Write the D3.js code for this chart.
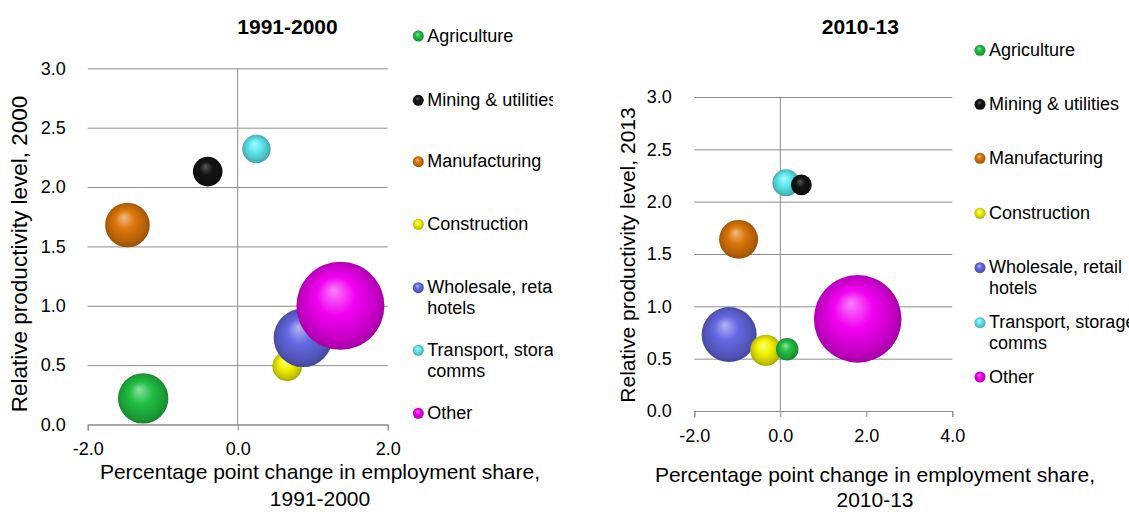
<!DOCTYPE html>
<html>
<head>
<meta charset="utf-8">
<script src="https://cdn.jsdelivr.net/npm/d3@7"></script>
<style>
  html, body { margin: 0; padding: 0; background: #fff; }
  svg text { font-family: "Liberation Sans", Arial, sans-serif; fill: #000; }
</style>
</head>
<body>
<svg id="chart" width="1129" height="512"></svg>
<script>
// Sectors and their colours
const sectors = ["Agriculture", "Mining & utilities", "Manufacturing", "Construction",
                 "Wholesale, retail, hotels", "Transport, storage, comms", "Other"];
const legendLines = [["Agriculture"], ["Mining & utilities"], ["Manufacturing"], ["Construction"],
                     ["Wholesale, retail", "hotels"], ["Transport, storage", "comms"], ["Other"]];
const colors = ["#22c043", "#141414", "#dc760a", "#f4f400", "#6468e2", "#5eeaf0", "#f200f2"];

// 1991-2000: change in employment share (pp), relative productivity 2000, employment share (bubble size)
const changeA = [-1.26, -0.40, -1.47, 0.66, 0.87, 0.25, 1.37];
const prodA   = [0.22, 2.13, 1.68, 0.49, 0.73, 2.32, 1.00];
const sizeA   = [13.9, 4.8, 10.9, 4.8, 18.8, 4.4, 42.4];

// 2010-13: change in employment share (pp), relative productivity 2013, employment share (bubble size)
const changeB = [0.16, 0.49, -0.97, -0.34, -1.19, 0.13, 1.80];
const prodB   = [0.59, 2.16, 1.64, 0.58, 0.73, 2.18, 0.88];
const sizeB   = [3.4, 2.9, 10.2, 6.5, 20.4, 4.9, 51.7];

// Axis ticks
const yTicks = [0, 0.5, 1.0, 1.5, 2.0, 2.5, 3.0];
const xTicksA = [-2, 0, 2];
const xTicksB = [-2, 0, 2, 4];
const fmt = d => d.toFixed(1);

const svg = d3.select("#chart");
const defs = svg.append("defs");
const grid = "#8c8c8c";

// Sphere-like shading for each colour
colors.forEach((c, i) => {
  const base = d3.color(c);
  const g = defs.append("radialGradient")
    .attr("id", "sphere" + i)
    .attr("cx", "50%").attr("cy", "50%").attr("r", "55%")
    .attr("fx", "42%").attr("fy", "32%");
  const light = d3.interpolateRgb(c, "#ffffff")(i === 1 ? 0.3 : 0.5);
  g.append("stop").attr("offset", "0%").attr("stop-color", light);
  g.append("stop").attr("offset", "40%").attr("stop-color", c);
  g.append("stop").attr("offset", "78%").attr("stop-color", base.darker(0.6).formatHex());
  g.append("stop").attr("offset", "100%").attr("stop-color", base.darker(1.3).formatHex());
});

function panel(cfg) {
  const x = d3.scaleLinear().domain(cfg.xDomain).range([cfg.left, cfg.right]);
  const y = d3.scaleLinear().domain([0, 3]).range([cfg.bottom, cfg.top]);
  const r = d3.scaleSqrt().domain([0, d3.max(cfg.size)]).range([0, cfg.maxR]);
  const g = svg.append("g");

  // horizontal gridlines with y labels
  const ya = g.append("g").attr("transform", `translate(${cfg.left},0)`)
    .call(d3.axisLeft(y).tickValues(yTicks).tickFormat(fmt)
      .tickSize(-(cfg.right - cfg.left)).tickPadding(cfg.yPad));
  ya.select(".domain").remove();
  ya.selectAll("line").attr("stroke", grid);
  ya.selectAll("text").attr("font-size", 18).attr("font-family", null);

  // x axis along y = 0
  const xa = g.append("g").attr("transform", `translate(0,${y(0)})`)
    .call(d3.axisBottom(x).tickValues(cfg.xTicks).tickFormat(fmt)
      .tickSizeOuter(0).tickSize(6).tickPadding(12));
  xa.select(".domain").attr("stroke", grid);
  xa.selectAll("line").attr("stroke", grid);
  xa.selectAll("text").attr("font-size", 18).attr("font-family", null);

  // vertical axis at x = 0
  g.append("line").attr("x1", x(0)).attr("x2", x(0))
    .attr("y1", y(3)).attr("y2", y(0)).attr("stroke", grid);

  // bubbles
  let idx = d3.range(sectors.length);
  if (cfg.sizeOrder) idx = idx.sort((a, b) => cfg.size[b] - cfg.size[a]);
  g.selectAll("circle.bubble").data(idx).join("circle")
    .attr("class", "bubble")
    .attr("cx", i => x(cfg.change[i]))
    .attr("cy", i => y(cfg.prod[i]))
    .attr("r", i => r(cfg.size[i]))
    .attr("fill", i => `url(#sphere${i})`);

  // title
  svg.append("text").attr("x", cfg.titleX).attr("y", cfg.titleY)
    .attr("text-anchor", "middle").attr("font-weight", "bold").attr("font-size", 21)
    .text(cfg.title);

  // axis titles
  const xt = svg.append("text").attr("text-anchor", "middle").attr("font-size", cfg.xtSize);
  xt.append("tspan").attr("x", cfg.xtX).attr("y", cfg.xtY1).text("Percentage point change in employment share,");
  xt.append("tspan").attr("x", cfg.xtX).attr("y", cfg.xtY2).text(cfg.title);

  svg.append("text").attr("text-anchor", "middle").attr("font-size", cfg.ytSize)
    .attr("transform", `translate(${cfg.ytX},${cfg.ytY}) rotate(-90)`)
    .text(cfg.yTitle);

  // legend
  const clipId = "clip" + cfg.legX;
  defs.append("clipPath").attr("id", clipId).append("rect")
    .attr("x", cfg.legX - 10).attr("y", 0).attr("width", cfg.legClip - cfg.legX + 10).attr("height", 512);
  const lg = svg.append("g").attr("clip-path", `url(#${clipId})`);
  legendLines.forEach((lines, i) => {
    const cy = cfg.legY[i];
    lg.append("circle").attr("cx", cfg.legX).attr("cy", cy + 1).attr("r", 5.5)
      .attr("fill", `url(#sphere${i})`);
    const t = lg.append("text").attr("font-size", 18);
    lines.forEach((ln, k) => {
      t.append("tspan").attr("x", cfg.legX + 9).attr("y", cy + 6.5 + k * 21).text(ln);
    });
  });
}

panel({
  title: "1991-2000", yTitle: "Relative productivity level, 2000",
  xDomain: [-2, 2], xTicks: xTicksA, left: 87.7, right: 387.7, top: 68.3, bottom: 424.5,
  change: changeA, prod: prodA, size: sizeA, maxR: 44, sizeOrder: false, yPad: 22,
  titleX: 287.5, titleY: 33.5,
  xtX: 320, xtY1: 479, xtY2: 506, xtSize: 21,
  ytX: 26.7, ytY: 254, ytSize: 22.5,
  legX: 418.3, legClip: 553, legY: [35, 99.3, 160.7, 223.3, 286.7, 349.3, 412.3]
});

panel({
  title: "2010-13", yTitle: "Relative productivity level, 2013",
  xDomain: [-2, 4], xTicks: xTicksB, left: 694.3, right: 952.3, top: 97, bottom: 411,
  change: changeB, prod: prodB, size: sizeB, maxR: 43.8, sizeOrder: true, yPad: 22.6,
  titleX: 860.3, titleY: 34,
  xtX: 875, xtY1: 481.7, xtY2: 506.7, xtSize: 21,
  ytX: 635, ytY: 255, ytSize: 21,
  legX: 980, legClip: 1129, legY: [49.3, 103.3, 157.3, 212.3, 266.7, 321.7, 376]
});
</script>
</body>
</html>
